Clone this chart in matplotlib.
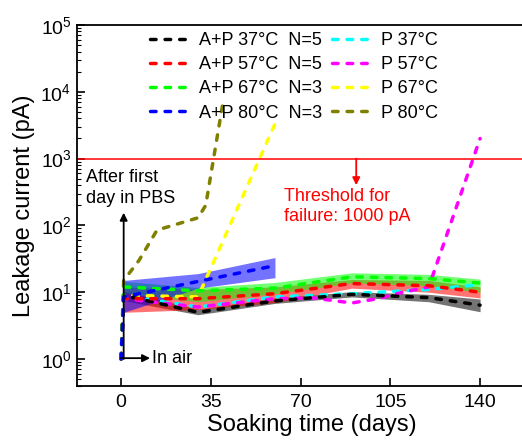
import numpy as np
import matplotlib
matplotlib.use("agg")
import matplotlib.pyplot as plt

plt.rcParams['font.family'] = ['Liberation Sans', 'DejaVu Sans']
plt.rcParams['mathtext.default'] = 'regular'

# A+P samples: mean and band (day 0 is "in air", band starts at day 1)
t_ap = [0, 1, 30, 60, 90, 120, 140]
ap37 = [1, 9, 5.0, 7.4, 9.3, 8.3, 6.4]
ap37_lo = [7.5, 4.6, 6.8, 8.5, 7.2, 5.1]
ap37_hi = [10.5, 5.6, 8.2, 10.2, 9.3, 7.9]
ap57 = [1, 8, 8, 9.5, 13.5, 12.5, 10]
ap57_lo = [5, 5.5, 7, 11.5, 10, 8.2]
ap57_hi = [12, 11, 12, 15.5, 15, 12]
ap67 = [1, 12, 10.5, 11.5, 17, 16, 13.7]
ap67_lo = [9.7, 7.2, 9.5, 13.8, 12.5, 10]
ap67_hi = [14.5, 11.8, 14, 19.5, 18.5, 15.7]
t_ap80 = [0, 1, 30, 60]
ap80 = [1, 8.5, 14.5, 25]
ap80_lo = [5, 11.5, 16.5]
ap80_hi = [15, 19, 33]

# P only samples
t_p37 = [0, 1, 30, 60, 90, 120, 140]
p37 = [1, 9, 6, 8.5, 9.5, 11, 13]
t_p57 = [0, 1, 30, 60, 75, 90, 100, 110, 120, 140]
p57 = [1, 8, 6, 8, 8.2, 6.9, 8.0, 10, 12, 2000]
t_p67 = [0, 1, 30, 60]
p67 = [1, 9, 8.5, 3300]
t_p80 = [0, 1, 7, 14, 30, 33, 40]
p80 = [1, 15, 30, 85, 130, 200, 8000]

threshold = 1000
xticks = [0, 35, 70, 105, 140]

fig = plt.figure(figsize=(5.22, 4.42), dpi=100)
ax = fig.add_axes([77 / 522, 56 / 442, 470 / 522, 361 / 442])

dash = (0, (1.6, 2.6))
lw = 2.5

def pline(t, v, c, label):
    h, = ax.plot(t, v, color=c, lw=lw, ls=dash, dash_capstyle='round', label=label)
    return h

handles_p = [
    pline(t_p37, p37, 'cyan', 'P 37°C'),
    pline(t_p57, p57, 'magenta', 'P 57°C'),
    pline(t_p67, p67, 'yellow', 'P 67°C'),
    pline(t_p80, p80, 'olive', 'P 80°C'),
]

handles_ap = []
for t, m, lo, hi, c, lab in [
        (t_ap, ap37, ap37_lo, ap37_hi, 'black', 'A+P 37°C  N=5'),
        (t_ap, ap57, ap57_lo, ap57_hi, 'red', 'A+P 57°C  N=5'),
        (t_ap, ap67, ap67_lo, ap67_hi, 'lime', 'A+P 67°C  N=3'),
        (t_ap80, ap80, ap80_lo, ap80_hi, 'blue', 'A+P 80°C  N=3')]:
    ax.fill_between(t[1:], lo, hi, color=c, alpha=0.55, lw=0)
    handles_ap.append(pline(t, m, c, lab))

ax.axhline(threshold, color='red', lw=1.1)

ax.set_yscale('log')
ax.set_xlim(-17.2, 166.1)
ax.set_ylim(10 ** -0.404, 1e5)
ax.set_xticks(xticks)
ax.tick_params(which='both', direction='in', labelsize=14)
ax.tick_params(which='major', length=6, width=1.2, pad=6)
ax.tick_params(which='minor', length=3, width=0.8)
ax.tick_params(axis='y', pad=4)
for s in ax.spines.values():
    s.set_linewidth(1.3)

ax.set_xlabel('Soaking time (days)', fontsize=17, labelpad=2)
ax.set_ylabel('Leakage current (pA)', fontsize=17, labelpad=4)

arr = dict(arrowstyle='-|>', lw=1.3, shrinkA=0, shrinkB=0, mutation_scale=11)
ax.annotate('', xy=(1, 155), xytext=(1, 1.0), arrowprops=dict(arr, color='black'))
ax.annotate('', xy=(11.3, 1.03), xytext=(0, 1.03), arrowprops=dict(arr, color='black'))
ax.annotate('', xy=(91.7, 400), xytext=(91.7, 1000), arrowprops=dict(arr, color='red'))

ax.text(-13.6, 10 ** 2.56, 'After first\nday in PBS', fontsize=13, va='center', ha='left',
        linespacing=1.25)
ax.text(12, 1.03, 'In air', fontsize=13, va='center', ha='left')
ax.text(63.6, 190, 'Threshold for\nfailure: 1000 pA', fontsize=13, color='red',
        va='center', ha='left', linespacing=1.25)

ax.legend(handles_ap + handles_p, [h.get_label() for h in handles_ap + handles_p],
          ncol=2, frameon=False, fontsize=13, loc='upper left',
          bbox_to_anchor=(0.137, 1.006), borderpad=0, handlelength=2.2,
          handletextpad=0.5, columnspacing=0.55, labelspacing=0.4)

plt.savefig('out.png', dpi=100)
